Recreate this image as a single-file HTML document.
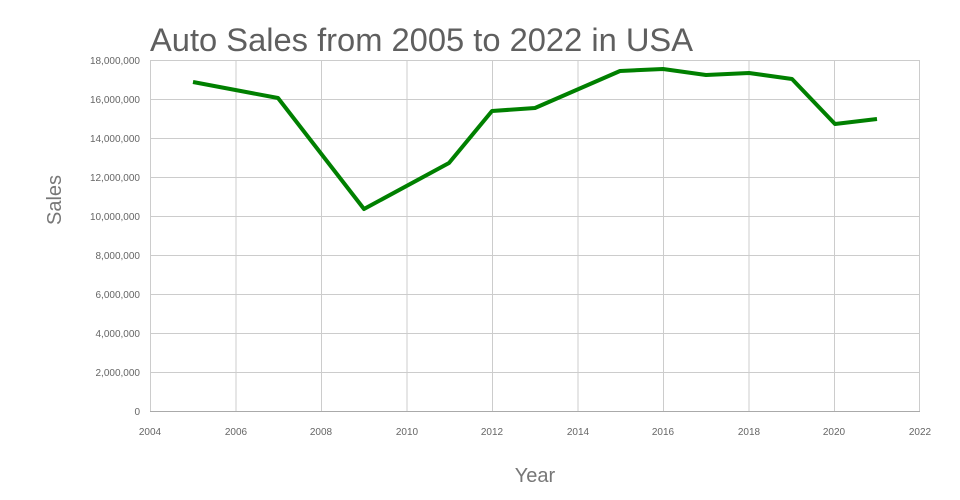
<!DOCTYPE html>
<html><head><meta charset="utf-8"><style>
html,body{margin:0;padding:0;background:#fff;}
svg{display:block;font-family:"Liberation Sans",sans-serif;}
</style></head><body>
<svg width="960" height="500" viewBox="0 0 960 500">
<rect width="960" height="500" fill="#fff"/>
<text x="150" y="51" font-size="32" fill="#5f5f5f" textLength="543" lengthAdjust="spacingAndGlyphs">Auto Sales from 2005 to 2022 in USA</text>
<g stroke="#cccccc" stroke-width="1" fill="none">
<line x1="150" y1="60.5" x2="920" y2="60.5"/>
<line x1="150" y1="99.5" x2="920" y2="99.5"/>
<line x1="150" y1="138.5" x2="920" y2="138.5"/>
<line x1="150" y1="177.5" x2="920" y2="177.5"/>
<line x1="150" y1="216.5" x2="920" y2="216.5"/>
<line x1="150" y1="255.5" x2="920" y2="255.5"/>
<line x1="150" y1="294.5" x2="920" y2="294.5"/>
<line x1="150" y1="333.5" x2="920" y2="333.5"/>
<line x1="150" y1="372.5" x2="920" y2="372.5"/>
<line x1="150.5" y1="60" x2="150.5" y2="412"/>
<line x1="236" y1="60" x2="236" y2="412"/>
<line x1="321.5" y1="60" x2="321.5" y2="412"/>
<line x1="407" y1="60" x2="407" y2="412"/>
<line x1="492.5" y1="60" x2="492.5" y2="412"/>
<line x1="578" y1="60" x2="578" y2="412"/>
<line x1="663.5" y1="60" x2="663.5" y2="412"/>
<line x1="749" y1="60" x2="749" y2="412"/>
<line x1="834.5" y1="60" x2="834.5" y2="412"/>
<line x1="919.5" y1="60" x2="919.5" y2="412"/>
</g>
<line x1="150" y1="411.5" x2="920" y2="411.5" stroke="#aaaaaa"/>
<g font-size="10" fill="#666" text-anchor="end">
<text x="140" y="64">18,000,000</text>
<text x="140" y="103">16,000,000</text>
<text x="140" y="142">14,000,000</text>
<text x="140" y="181">12,000,000</text>
<text x="140" y="220">10,000,000</text>
<text x="140" y="259">8,000,000</text>
<text x="140" y="298">6,000,000</text>
<text x="140" y="337">4,000,000</text>
<text x="140" y="376">2,000,000</text>
<text x="140" y="415">0</text>
</g>
<g font-size="10" fill="#666" text-anchor="middle">
<text x="150" y="435">2004</text>
<text x="236" y="435">2006</text>
<text x="321" y="435">2008</text>
<text x="407" y="435">2010</text>
<text x="492" y="435">2012</text>
<text x="578" y="435">2014</text>
<text x="663" y="435">2016</text>
<text x="749" y="435">2018</text>
<text x="834" y="435">2020</text>
<text x="920" y="435">2022</text>
</g>
<text x="535" y="482" font-size="20" fill="#777" text-anchor="middle">Year</text>
<text transform="translate(61,200) rotate(-90)" font-size="20" fill="#777" text-anchor="middle">Sales</text>
<polyline fill="none" stroke="#008000" stroke-width="4" stroke-linejoin="round" stroke-linecap="butt"
points="193,82 278,98 364,209 449,163 492,111 535,108 620,71 663,69 706,75 749,73 792,79 835,124 877,119"/>
</svg>
</body></html>
